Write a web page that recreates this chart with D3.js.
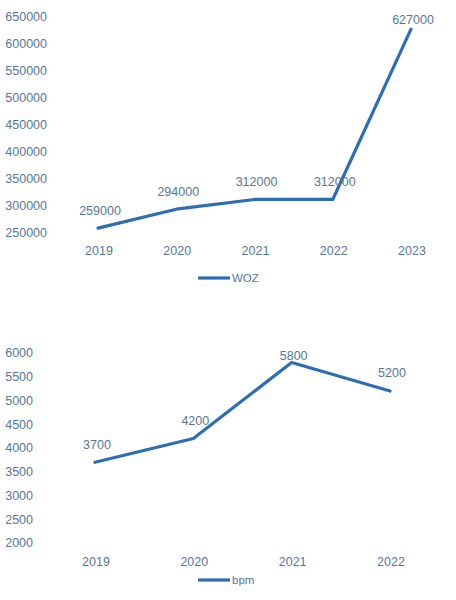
<!DOCTYPE html>
<html>
<head>
<meta charset="utf-8">
<script src="https://cdn.jsdelivr.net/npm/d3@7"></script>
<style>
  body { margin: 0; background: #fff; }
  text { font-family: "Liberation Sans", Arial, sans-serif; fill: #56769a; }
</style>
</head>
<body>
<div id="chart"></div>
<script>
const width = 456,
    height = 600,
    lineColor = "#2d6db5";

// WOZ-waarde per jaar
const wozYears = ["2019", "2020", "2021", "2022", "2023"];
const wozValues = [259000, 294000, 312000, 312000, 627000];
const wozTicks = [250000, 300000, 350000, 400000, 450000, 500000, 550000, 600000, 650000];

// bpm per jaar
const bpmYears = ["2019", "2020", "2021", "2022"];
const bpmValues = [3700, 4200, 5800, 5200];
const bpmTicks = [2000, 2500, 3000, 3500, 4000, 4500, 5000, 5500, 6000];

const svg = d3.select("#chart")
    .append("svg")
    .attr("width", width)
    .attr("height", height);

// tekent een lijngrafiek met as-labels, datalabels en legenda
function drawChart(cfg) {
    const x = d3.scalePoint().domain(cfg.years).range(cfg.xRange);
    const y = d3.scaleLinear().domain(d3.extent(cfg.ticks)).range(cfg.yRange);
    const g = svg.append("g");

    // y-as labels
    g.selectAll(".ytick")
        .data(cfg.ticks)
        .enter()
        .append("text")
        .attr("x", cfg.yLabelX)
        .attr("y", d => y(d))
        .attr("dy", "0.35em")
        .attr("text-anchor", "end")
        .style("font-size", "12.5px")
        .text(d => d);

    // x-as labels
    g.selectAll(".xtick")
        .data(cfg.years)
        .enter()
        .append("text")
        .attr("x", d => x(d) + 1)
        .attr("y", cfg.xLabelY)
        .attr("dy", "0.35em")
        .attr("text-anchor", "middle")
        .style("font-size", "12.5px")
        .text(d => d);

    const line = d3.line()
        .x((d, i) => x(cfg.years[i]))
        .y(d => y(d));

    g.append("path")
        .datum(cfg.values)
        .attr("d", line)
        .attr("fill", "none")
        .attr("stroke", lineColor)
        .attr("stroke-width", 3.2)
        .attr("stroke-linejoin", "round")
        .attr("stroke-linecap", "round");

    // datalabels boven de punten, niet boven het plotgebied uit
    const plotTop = cfg.yRange[1];
    g.selectAll(".label")
        .data(cfg.values)
        .enter()
        .append("text")
        .attr("x", (d, i) => x(cfg.years[i]) + 2)
        .attr("y", d => Math.max(y(d) - 18, plotTop + 3))
        .attr("dy", "0.35em")
        .attr("text-anchor", "middle")
        .style("font-size", "12.5px")
        .text(d => d);

    // legenda
    const legend = g.append("g")
        .attr("transform", "translate(" + cfg.legend[0] + "," + cfg.legend[1] + ")");
    legend.append("line")
        .attr("x1", 0)
        .attr("x2", 32)
        .attr("stroke", lineColor)
        .attr("stroke-width", 3.2);
    legend.append("text")
        .attr("x", 34)
        .attr("dy", "0.35em")
        .style("font-size", "11.5px")
        .text(cfg.name);
}

drawChart({
    name: "WOZ",
    years: wozYears,
    values: wozValues,
    ticks: wozTicks,
    xRange: [98, 411],
    yRange: [233, 16.7],
    yLabelX: 47,
    xLabelY: 251,
    legend: [198, 278]
});

drawChart({
    name: "bpm",
    years: bpmYears,
    values: bpmValues,
    ticks: bpmTicks,
    xRange: [95, 390],
    yRange: [543, 353],
    yLabelX: 33,
    xLabelY: 562,
    legend: [198, 580]
});
</script>
</body>
</html>
